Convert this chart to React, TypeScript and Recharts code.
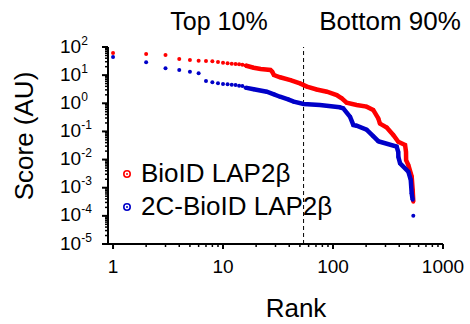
import React from 'react';
import { ScatterChart, Scatter, XAxis, YAxis, ReferenceLine } from 'recharts';

const redName = 'BioID LAP2β';
const blueName = '2C-BioID LAP2β';
const regionLabels = ['Top 10%', 'Bottom 90%'];
const cutoffRank = 54;

const redDotRanks = [1, 2, 3, 4, 5, 6, 7, 8, 9, 10, 11, 12, 13, 14, 15];
const redDotScores = [61, 56, 52, 37.5, 34.5, 32.6, 31.8, 30.9, 29.3, 27.7, 26.4, 25.5, 24.9, 24.3, 23.5];
const redTailRanks = [16, 19, 22, 27, 28, 29, 33, 41, 50, 58, 71, 88, 108, 120, 133, 164, 202, 232, 258, 267, 308, 353, 392, 452, 461, 462, 484, 519, 530, 537];
const redTailScores = [22, 18.4, 16.5, 15.2, 13.3, 10.1, 8.4, 6.7, 5.1, 3.9, 3.1, 2.58, 1.97, 1.5, 1.05, 0.87, 0.76, 0.58, 0.29, 0.19, 0.138, 0.075, 0.043, 0.033, 0.0186, 0.0096, 0.0064, 0.0025, 0.00083, 0.00032];

const blueDotRanks = [1, 2, 3, 4, 5, 6, 7, 8, 9, 10, 11, 12, 13, 14, 15, 537];
const blueDotScores = [44, 29, 17.5, 15.2, 13.2, 11.6, 6.2, 5.6, 5.1, 4.8, 4.7, 4.6, 4.5, 4.2, 4.1, 0.0001];
const blueTailRanks = [16, 19, 25, 29, 33, 39, 44, 54, 76, 115, 124, 143, 153, 164, 202, 232, 258, 267, 379, 392, 393, 407, 484, 509, 519, 530];
const blueTailScores = [3.6, 3.14, 2.58, 2.08, 1.71, 1.38, 1.14, 0.94, 0.87, 0.72, 0.66, 0.33, 0.17, 0.16, 0.115, 0.068, 0.045, 0.043, 0.029, 0.0186, 0.0123, 0.0074, 0.0037, 0.0019, 0.00063, 0.00037];

const xMajorTicks = [1, 10, 100, 1000];
const yMajorExps = [-5, -4, -3, -2, -1, 0, 1, 2];
const minorSteps = [2, 3, 4, 5, 6, 7, 8, 9];

const xTicks: number[] = [];
xMajorTicks.forEach((m, i) => {
  xTicks.push(m);
  if (i < xMajorTicks.length - 1) minorSteps.forEach((s) => xTicks.push(m * s));
});
const yTicks: number[] = [];
yMajorExps.forEach((e, i) => {
  const m = Math.pow(10, e);
  yTicks.push(m);
  if (i < yMajorExps.length - 1) minorSteps.forEach((s) => yTicks.push(m * s));
});

const toRows = (ranks: number[], scores: number[]) => ranks.map((r, i) => ({ rank: r, score: scores[i] }));
const redDots = toRows(redDotRanks, redDotScores);
const redTail = toRows(redTailRanks, redTailScores);
const blueDots = toRows(blueDotRanks, blueDotScores);
const blueTail = toRows(blueTailRanks, blueTailScores);

const RED = '#ff0000';
const BLUE = '#0000c8';
const FONT = '"Liberation Sans", Arial, sans-serif';

const isMajor = (v: number) => {
  const l = Math.log10(v);
  return Math.abs(l - Math.round(l)) < 1e-6;
};

const XTick = (props: any) => {
  const { x, y, payload } = props;
  const v = payload.value;
  const major = isMajor(v);
  return (
    <g>
      <line x1={x} x2={x} y1={y} y2={y + (major ? 5 : 3)} stroke="#000" strokeWidth={major ? 2 : 1.5} />
      {major && (
        <text x={x} y={y + 29} textAnchor="middle" fontSize={19} fontFamily={FONT} fill="#000">
          {String(v)}
        </text>
      )}
    </g>
  );
};

const YTick = (props: any) => {
  const { x, y, payload } = props;
  const v = payload.value;
  const major = isMajor(v);
  const exp = Math.round(Math.log10(v));
  return (
    <g>
      <line x1={x - (major ? 6 : 3)} x2={x} y1={y} y2={y} stroke="#000" strokeWidth={major ? 2 : 1.5} />
      {major && (
        <text x={x - 48} y={y + 5.5} textAnchor="start" fontSize={19} fontFamily={FONT} fill="#000">
          10
          <tspan dy={-8} fontSize={12}>{String(exp)}</tspan>
        </text>
      )}
    </g>
  );
};

const dotShape = (color: string, r: number) => (props: any) => (
  <circle cx={props.cx} cy={props.cy} r={r} fill={color} />
);

export default function App() {
  return (
    <div style={{ position: 'absolute', left: 0, top: 0, width: 470, height: 324, background: '#fff' }}>
      <ScatterChart width={470} height={324} margin={{ top: 47, right: 27, bottom: 0, left: 0 }}>
        <XAxis
          dataKey="rank"
          type="number"
          scale="log"
          domain={[0.9, 1000]}
          allowDataOverflow
          ticks={xTicks}
          interval={0}
          height={80}
          tickSize={0}
          tickMargin={0}
          tickLine={false}
          axisLine={{ stroke: '#000', strokeWidth: 2 }}
          tick={<XTick />}
        />
        <YAxis
          dataKey="score"
          type="number"
          scale="log"
          domain={[1e-5, 100]}
          allowDataOverflow
          ticks={yTicks}
          interval={0}
          width={108}
          tickSize={0}
          tickMargin={0}
          tickLine={false}
          axisLine={{ stroke: '#000', strokeWidth: 2 }}
          tick={<YTick />}
        />
        <ReferenceLine x={cutoffRank} stroke="#000" strokeWidth={1} strokeDasharray="4 3" />
        <Scatter name={redName} data={redTail} isAnimationActive={false} line={{ stroke: RED, strokeWidth: 4.5 }} lineType="joint" shape={dotShape(RED, 2)} />
        <Scatter name={redName} data={redDots} isAnimationActive={false} shape={dotShape(RED, 2)} />
        <Scatter name={blueName} data={blueTail} isAnimationActive={false} line={{ stroke: BLUE, strokeWidth: 4.5 }} lineType="joint" shape={dotShape(BLUE, 2)} />
        <Scatter name={blueName} data={blueDots} isAnimationActive={false} shape={dotShape(BLUE, 2)} />
      </ScatterChart>
      <svg width={470} height={324} style={{ position: 'absolute', left: 0, top: 0, pointerEvents: 'none' }}>
        <g fontFamily={FONT} fill="#000">
          <text x={219} y={30} textAnchor="middle" fontSize={25}>{regionLabels[0]}</text>
          <text x={390} y={30} textAnchor="middle" fontSize={26}>{regionLabels[1]}</text>
          <text x={296} y={317} textAnchor="middle" fontSize={26}>Rank</text>
          <text transform="translate(33,136) rotate(-90)" textAnchor="middle" fontSize={26}>Score (AU)</text>
          <circle cx={127} cy={174} r={3.2} fill="none" stroke={RED} strokeWidth={1.6} />
          <circle cx={127} cy={174} r={1} fill={RED} />
          <text x={141} y={182} fontSize={26}>{redName}</text>
          <circle cx={127} cy={207} r={3.2} fill="none" stroke={BLUE} strokeWidth={1.6} />
          <circle cx={127} cy={207} r={1} fill={BLUE} />
          <text x={141} y={215} fontSize={26}>{blueName}</text>
        </g>
      </svg>
    </div>
  );
}
